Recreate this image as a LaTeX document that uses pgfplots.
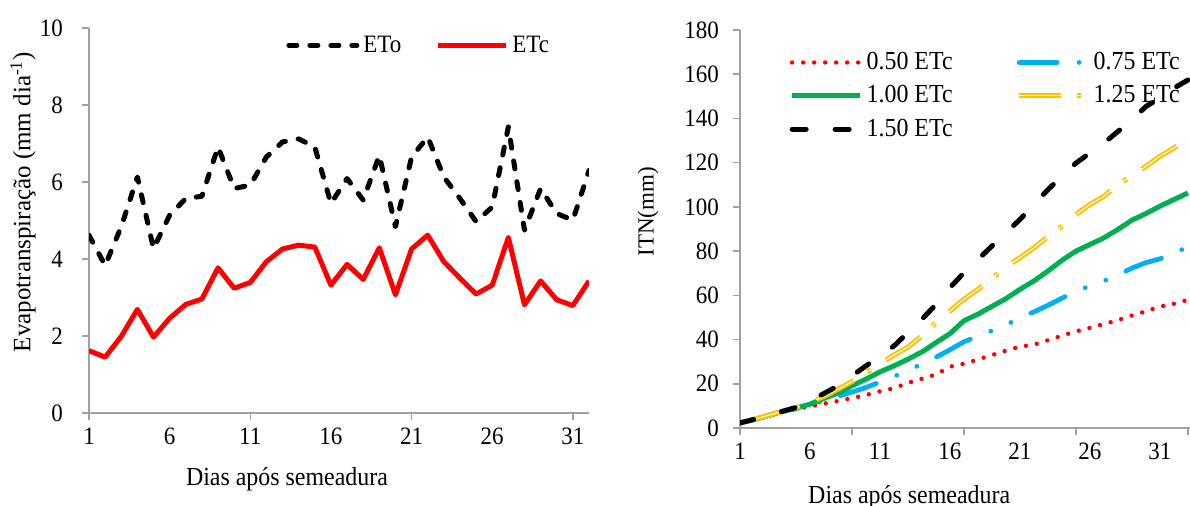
\documentclass[border=0pt]{standalone}
\usepackage{fontspec}
\setmainfont{Liberation Serif}
\newfontfamily\narrow{Liberation Serif}[FakeStretch=0.92]
\usepackage{pgfplots}
\usepackage{pgfplotstable}
\pgfplotsset{compat=1.18}

\definecolor{axgray}{RGB}{160,160,160}
\definecolor{xlblue}{RGB}{0,176,240}
\definecolor{xlgreen}{RGB}{0,176,80}
\definecolor{xlgold}{RGB}{255,192,0}

% evapotranspiracao diaria
\pgfplotstableread{
day eto etc
1  4.62 1.62
2  3.83 1.45
3  4.84 1.99
4  6.13 2.69
5  4.27 1.97
6  5.14 2.46
7  5.57 2.82
8  5.63 2.96
9  6.91 3.77
10 5.83 3.24
11 5.92 3.39
12 6.65 3.93
13 7.04 4.26
14 7.12 4.36
15 6.91 4.31
16 5.44 3.32
17 6.09 3.86
18 5.53 3.47
19 6.69 4.29
20 4.84 3.07
21 6.65 4.26
22 7.17 4.62
23 6.13 3.93
24 5.57 3.50
25 4.97 3.09
26 5.35 3.32
27 7.43 4.56
28 4.75 2.81
29 5.83 3.43
30 5.18 2.94
31 5.01 2.79
32 6.30 3.43
}\evapo

% ITN acumulada por lamina
\pgfplotstableread{
day r50 r75 r100 r125 r150
1  2.3  2.3  2.3   2.3   2.3
2  3.8  3.8  3.8   3.9   3.9
3  5.6  5.6  5.6   5.7   5.7
4  7.2  7.3  7.4   7.5   7.5
5  8.5  8.8  8.9   9.1   9.3
6  9.8  10.3 10.8  11.5  12.3
7  11.0 12.3 13.4  14.3  15.6
8  12.2 14.3 15.8  17.5  19.1
9  13.5 16.3 19.1  21.0  23.6
10 14.9 18.3 22.1  25.0  28.1
11 16.6 20.8 25.4  29.0  32.6
12 18.0 23.3 28.1  33.0  37.1
13 20.4 26.0 31.1  36.6  43.2
14 22.3 29.0 34.4  41.7  49.2
15 24.2 32.0 38.6  47.7  55.9
16 27.7 35.4 42.7  52.9  63.5
17 29.1 39.0 48.5  58.2  70.2
18 31.0 41.5 51.5  62.7  76.2
19 33.0 44.0 55.0  67.5  82.3
20 35.0 46.6 58.5  73.0  88.3
21 36.8 49.8 62.7  77.0  94.3
22 37.7 52.5 66.5  81.5  101.1
23 39.7 55.5 71.0  86.5  107.8
24 41.8 58.7 75.8  91.3  113.8
25 43.7 61.8 80.0  96.5  119.8
26 45.3 64.2 83.0  101.1 124.4
27 47.0 66.5 86.0  104.8 128.9
28 48.8 69.2 89.8  110.1 134.1
29 50.9 72.3 94.0  114.1 139.4
30 52.8 74.8 97.0  118.3 145.4
31 54.9 76.5 100.3 122.9 149.2
32 56.2 79.2 103.3 126.6 153.7
33 57.9 81.8 106.3 130.7 157.4
}\itn

\pgfplotsset{
  excel/.style={
    scale only axis,
    anchor=south west,
    axis lines=left,
    axis line style={axgray, line width=0.75pt, -},
    tick style={axgray, line width=0.75pt},
    tick align=outside,
    major tick length=3.5pt,
    /pgf/number format/assume math mode=true,
    ticklabel style={font=\narrow\fontsize{12.5}{15}\selectfont},
    xlabel style={font=\narrow\fontsize{13}{15}\selectfont},
    ylabel style={font=\fontsize{12.5}{15}\selectfont},
    xticklabel={\relax},
    extra x tick style={major tick length=0pt, tick style={draw=none},
      xticklabel style={yshift=-4pt}},
    legend style={draw=none, fill=none, inner sep=1pt},
    legend image code/.code={\draw[#1] (0pt,0pt) -- (34pt,0pt);},
    every axis plot/.append style={line join=round},
  }
}

\begin{document}
\begin{tikzpicture}
\useasboundingbox (0pt,0pt) rectangle (595pt,252.5pt);

\begin{axis}[excel,
  at={(44.5pt,46pt)}, width=250pt, height=192.5pt,
  xmin=1, xmax=32, ymin=0, ymax=10,
  ytick={0,2,...,10},
  yticklabel style={xshift=-6pt},
  xtick={1,11,21,31},
  extra x ticks={1,6,11,16,21,26,31},
  extra x tick labels={1,6,11,16,21,26,31},
  xlabel={Dias após semeadura},
  ylabel={Evapotranspiração (mm dia\textsuperscript{-1})},
  xlabel style={at={(axis description cs:0.396,-0.172)}, anchor=center},
  ylabel style={at={(axis description cs:-0.132,0.548)}, anchor=center},
  legend columns=2,
  legend style={at={(0.39,0.955)}, anchor=west, font=\narrow\fontsize{12.5}{14}\selectfont,
    /tikz/every even column/.append style={column sep=15pt}},
]
\addplot[black, line width=2.5pt, line cap=round, dash pattern=on 4pt off 6.5pt]
  table[x=day, y=eto]{\evapo};
\addlegendentry{ETo}
\addplot[red, line width=2.5pt]
  table[x=day, y=etc]{\evapo};
\addlegendentry{ETc}
\end{axis}

\begin{axis}[excel,
  at={(370pt,38.5pt)}, width=225pt, height=199pt,
  xmin=1, xmax=33.15, ymin=0, ymax=180,
  ytick={0,20,...,180},
  yticklabel style={xshift=-3.5pt},
  xtick={1,9,17,25,33},
  extra x ticks={1,6,11,16,21,26,31},
  extra x tick labels={1,6,11,16,21,26,31},
  xlabel={Dias após semeadura},
  ylabel={ITN(mm)},
  ylabel style={font=\fontsize{11.5}{14}\selectfont},
  xlabel style={at={(axis description cs:0.376,-0.175)}, anchor=center},
  ylabel style={at={(axis description cs:-0.204,0.543)}, anchor=center},
  legend columns=2,
  legend style={at={(0.105,0.96)}, anchor=north west, font=\narrow\fontsize{13}{15}\selectfont,
    row sep=2.5pt,
    /tikz/every even column/.append style={column sep=30pt}},
]
\addplot[red, line width=2.2pt, line cap=round, dash pattern=on 0pt off 5.5pt]
  table[x=day, y=r50]{\itn};
\addlegendentry{0.50 ETc}
\addplot[xlblue, line width=2.4pt, line cap=round,
  dash pattern=on 19pt off 11pt on 0pt off 11pt on 0pt off 11pt]
  table[x=day, y=r75]{\itn};
\addlegendentry{0.75 ETc}
\addplot[xlgreen, line width=2.5pt]
  table[x=day, y=r100]{\itn};
\addlegendentry{1.00 ETc}
\addplot[xlgold, line width=1pt, double=white, double distance=0.5pt,
  dash pattern=on 21pt off 8pt on 2pt off 9pt]
  table[x=day, y=r125]{\itn};
\addlegendentry{1.25 ETc}
\addplot[black, line width=2.5pt, line cap=round, dash pattern=on 7pt off 14.5pt]
  table[x=day, y=r150]{\itn};
\addlegendentry{1.50 ETc}
\end{axis}
\end{tikzpicture}
\end{document}
